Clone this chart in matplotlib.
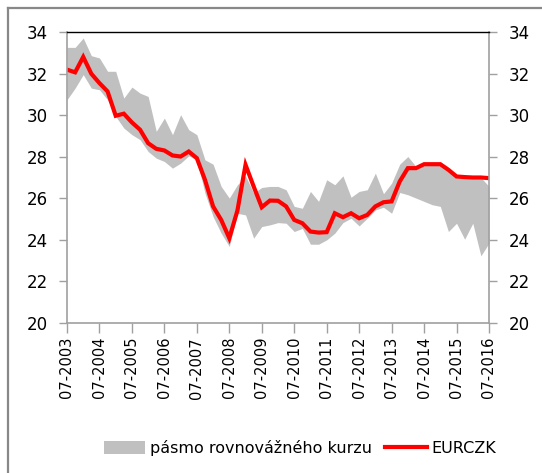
import matplotlib
matplotlib.use("Agg")
import matplotlib.pyplot as plt
from matplotlib.patches import Patch
from matplotlib.lines import Line2D
import numpy as np

# quarterly data, Q3 2003 .. Q3 2016
start_year = 2003.5
eurczk = [32.19, 32.06, 32.80, 31.99, 31.54, 31.14, 29.97, 30.07, 29.65, 29.30,
          28.65, 28.38, 28.30, 28.06, 28.01, 28.25, 27.93, 26.89, 25.61, 24.96,
          24.08, 25.41, 27.61, 26.57, 25.57, 25.89, 25.88, 25.61, 24.96, 24.80,
          24.40, 24.35, 24.37, 25.28, 25.09, 25.28, 25.04, 25.20, 25.61, 25.81,
          25.85, 26.81, 27.45, 27.45, 27.64, 27.64, 27.64, 27.37, 27.05, 27.02,
          27.00, 27.00, 26.97]
band_upper = [33.26, 33.26, 33.71, 32.86, 32.75, 32.11, 32.11, 30.82, 31.35, 31.06,
              30.90, 29.22, 29.86, 29.06, 30.02, 29.30, 29.06, 27.85, 27.64, 26.57,
              26.01, 26.65, 27.08, 26.25, 26.52, 26.57, 26.57, 26.41, 25.61, 25.52,
              26.33, 25.85, 26.89, 26.65, 27.08, 26.05, 26.33, 26.41, 27.21, 26.22,
              26.73, 27.64, 28.01, 27.53, 27.61, 27.61, 27.61, 27.37, 27.13, 27.08,
              27.05, 27.00, 26.57]
band_lower = [30.74, 31.30, 31.95, 31.30, 31.22, 30.74, 29.94, 29.38, 29.06, 28.82,
              28.25, 27.93, 27.77, 27.45, 27.69, 28.04, 27.85, 26.25, 25.12, 24.32,
              23.68, 25.28, 25.20, 24.08, 24.64, 24.72, 24.83, 24.80, 24.40, 24.55,
              23.79, 23.79, 24.00, 24.32, 24.83, 25.04, 24.67, 25.04, 25.44, 25.57,
              25.28, 26.28, 26.17, 26.01, 25.85, 25.69, 25.61, 24.40, 24.80, 24.03,
              24.80, 23.23, 23.84]
tick_years = list(range(2003, 2017))
tick_labels = [f"07-{y}" for y in tick_years]
y_ticks = [20, 22, 24, 26, 28, 30, 32, 34]
band_label = "pásmo rovnovážného kurzu"
line_label = "EURCZK"

x = start_year + 0.25 * np.arange(len(eurczk))

plt.rcParams['font.family'] = ['DejaVu Sans']
fig = plt.figure(figsize=(5.42, 4.73), dpi=100)
ax = fig.add_axes([67/542, 1-323/473, (489-67)/542, (323-32)/473])

gray_axis = '#a0a0a0'
ax.fill_between(x, band_lower, band_upper, color='#c0c0c0', linewidth=0, zorder=1)
ax.plot(x, eurczk, color='#ff0000', linewidth=3.0, solid_joinstyle='miter', zorder=2)

ax.set_xlim(2003.5, 2016.5)
ax.set_ylim(20, 34)
ax.set_yticks(y_ticks)
ax.set_xticks([y + 0.5 for y in tick_years])
ax.set_xticklabels(tick_labels, rotation=90, fontsize=10.5)
ax.tick_params(axis='x', direction='out', length=7, width=1, color=gray_axis, pad=3)
ax.tick_params(axis='y', direction='out', length=6, width=1, color=gray_axis, pad=8,
               labelsize=12, left=True, right=True, labelleft=True, labelright=True)
for s in ['left', 'right', 'bottom']:
    ax.spines[s].set_color(gray_axis)
    ax.spines[s].set_linewidth(1.2)
ax.spines['top'].set_color('black')
ax.spines['top'].set_linewidth(1.0)

handles = [Patch(facecolor='#c0c0c0', edgecolor='none'),
           Line2D([], [], color='#ff0000', linewidth=3.0)]
fig.legend(handles, [band_label, line_label], ncol=2, frameon=False,
           loc='center', bbox_to_anchor=(300/542, 1-448/473), fontsize=11.5,
           handlelength=2.6, handleheight=0.9, handletextpad=0.3, columnspacing=0.8)

# outer frame (top and left edges)
fig.add_artist(Line2D([8/542, 1.0], [1-8/473, 1-8/473], color='#888888', linewidth=1.6,
                      transform=fig.transFigure))
fig.add_artist(Line2D([8/542, 8/542], [0.0, 1-8/473], color='#888888', linewidth=1.6,
                      transform=fig.transFigure))

fig.savefig("out.png", dpi=100)
